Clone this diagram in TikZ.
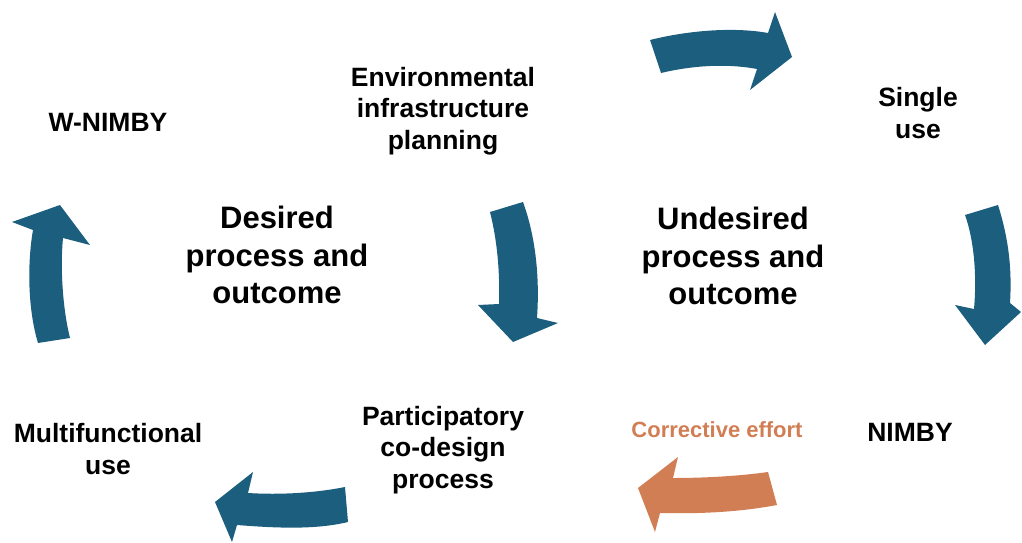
\documentclass[tikz,border=0pt]{standalone}
\usepackage{fontspec}
\setmainfont{Liberation Sans}
\definecolor{teal}{HTML}{1B5E7E}
\definecolor{corr}{HTML}{D27E55}
\tikzset{
  lbl/.style={font=\bfseries\fontsize{26.5}{31.5}\selectfont, align=center, text=black, inner sep=0pt},
  big/.style={font=\bfseries\fontsize{31}{37.5}\selectfont, align=center, text=black, inner sep=0pt},
  arr/.style={fill=teal, draw=none},
  carr/.style={fill=corr, draw=none}
}
\begin{document}
\begin{tikzpicture}[x=1pt,y=-1pt]
\useasboundingbox (0,0) rectangle (1022,543);
% arrows
\path[arr] (650,40) .. controls (690,30) and (735,27) .. (768,33) -- (775,12) -- (792,57) -- (750,90) -- (757,69) .. controls (725,63) and (690,66) .. (661,73) -- cycle;
\path[arr] (965,215) -- (998,205) .. controls (1009,240) and (1012,270) .. (1010,303) -- (1021,312) -- (985,345) -- (955,305) -- (974,309) .. controls (977,275) and (974,240) .. (965,215) -- cycle;
\path[arr] (490,212) -- (523,202) .. controls (535,235) and (540,275) .. (537,318) -- (558,323) -- (513,342) -- (478,305) -- (499,304) .. controls (500,270) and (497,240) .. (490,212) -- cycle;
\path[arr] (60,205) -- (90,245) -- (63,238) .. controls (60,270) and (63,310) .. (70,338) -- (38,343) .. controls (28,310) and (27,265) .. (33,230) -- (12,222) -- cycle;
\path[arr] (215,502) -- (253,472) -- (248,493) .. controls (280,495) and (315,493) .. (345,487) -- (348,522) .. controls (315,530) and (275,528) .. (237,525) -- (232,542) -- cycle;
\path[carr] (638,488) -- (678,457) -- (673,478) .. controls (705,478) and (740,476) .. (768,472) -- (777,505) .. controls (740,512) and (700,514) .. (660,513) -- (655,532) -- cycle;
% labels
\node[lbl] (env) at (443,111) {Environmental\\infrastructure\\planning};
\node[lbl] (wn) at (108,122) {W-NIMBY};
\node[lbl] (single) at (918,113) {Single\\use};
\node[big] (des) at (277,255) {Desired\\process and\\outcome};
\node[big] (und) at (733,256) {Undesired\\process and\\outcome};
\node[lbl] (part) at (443,450) {Participatory\\co-design\\process};
\node[lbl] (multi) at (108,449) {Multifunctional\\use};
\node[lbl] (nimby) at (910,432) {NIMBY};
\node[lbl, text=corr, font=\bfseries\fontsize{22}{26}\selectfont] (corr) at (717,430) {Corrective effort};
\end{tikzpicture}
\end{document}
